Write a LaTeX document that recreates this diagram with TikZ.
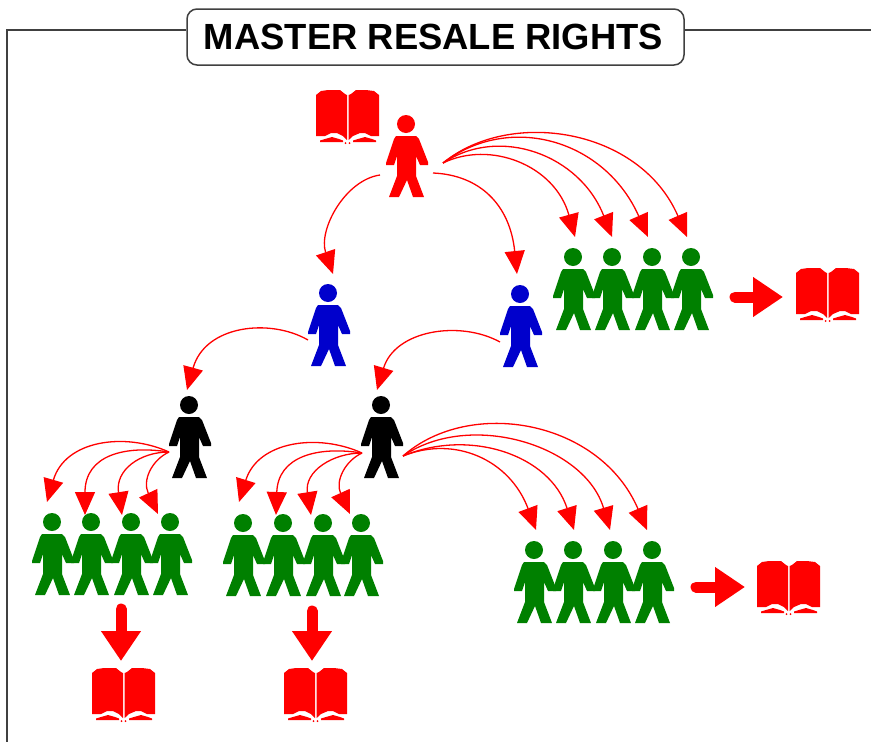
\documentclass[tikz,border=0pt]{standalone}
\usepackage{fontspec}
\setmainfont{Liberation Sans}
\usetikzlibrary{arrows.meta}
\definecolor{mygreen}{RGB}{0,128,0}
\definecolor{myblue}{RGB}{0,0,204}
\definecolor{myred}{RGB}{255,0,0}
\tikzset{
  x=1pt,y=-1pt,
  anchorbox/.style={inner sep=0pt,minimum width=40pt,minimum height=75pt},
  bookbox/.style={inner sep=0pt,minimum width=63pt,minimum height=54pt},
  curvearrow/.style={draw=myred,line width=1.3pt,-{Triangle[length=23pt,width=20pt]}},
  fatarrow/.style={draw=myred,line width=11pt,line cap=round,-{Triangle[length=30pt,width=38pt]}},
  titlebox/.style={draw=black!75,line width=1.5pt,fill=white,rounded corners=10pt,minimum width=497pt,minimum height=56pt,inner sep=0pt},
  titletext/.style={inner sep=0pt,font=\bfseries\fontsize{36.4}{36.4}\selectfont},
  frameline/.style={draw=black!75,line width=1.5pt}
}
\newcommand\personfig[4]{%
  \node[anchorbox] (#1) at (#3,#4+36) {};
  \fill[#2] (#3,#4) circle[radius=9pt];
  \fill[#2,shift={(#3,#4)}] (-10,12) -- (10,12) -- (13,15) -- (22,38) -- (22,41) -- (14,41) -- (10,32) -- (10,52) -- (18,73) -- (7,73) -- (1,56) -- (-7,73) -- (-17,73) -- (-9,52) -- (-9,32) -- (-12,41) -- (-20,41) -- (-20,39) -- (-12,15) -- cycle;
}
\newcommand\bookfig[4][myred]{%
  \node[bookbox] (#2) at (#3+31.5,#4+27) {};
  \begin{scope}[shift={(#3,#4)}]
  \fill[#1] (0,5) -- (5,1) -- (12,0) -- (24,0) -- (29,4) -- (31,5) -- (31,50) -- (27,46) -- (21,43) -- (15,43) -- (9,46) -- (0,46) -- cycle;
  \fill[#1] (32.7,50) -- (37,46) -- (44,43) -- (49,43) -- (55,46) -- (63,46) -- (63,5) -- (58,1) -- (50,0) -- (40,0) -- (35,4) -- (32.7,5) -- cycle;
  \fill[#1] (4,50.5) -- (9,49) -- (16,47) -- (23,49) -- (27,50.5) -- (27,52) -- (4,52) -- cycle;
  \fill[#1] (37,50.5) -- (42,49) -- (49,47) -- (56,49) -- (60,50.5) -- (60,52) -- (37,52) -- cycle;
  \fill[#1] (29.5,53) circle[radius=1pt] (33.5,53) circle[radius=1pt];
  \end{scope}
}
\newcommand\conn[4]{\draw[curvearrow] (#1) .. controls (#2) and (#3) .. (#4);}
\begin{document}
\begin{tikzpicture}
\useasboundingbox (0,0) rectangle (871,742);
\fill[white] (0,0) rectangle (871,742);
% frame and title
\coordinate (fb) at (7,742);
\coordinate (fc) at (7,30);
\coordinate (fe) at (871,30);
\node[titlebox] (title) at (435.5,37) {};
\node[titletext] (titlelabel) at (433.5,37) {MASTER RESALE RIGHTS};
\draw[frameline] (fb) -- (fc) -- (fc -| title.west);
\draw[frameline] (fc -| title.east) -- (fe);
% people
\personfig{red}{myred}{406}{124}
\personfig{blueL}{myblue}{328}{293}
\personfig{blueR}{myblue}{520}{294}
\personfig{blackL}{black}{189}{405}
\personfig{blackR}{black}{381}{405}
\personfig{ga1}{mygreen}{573}{257}
\personfig{ga2}{mygreen}{612}{257}
\personfig{ga3}{mygreen}{652}{257}
\personfig{ga4}{mygreen}{691}{257}
\personfig{gb1}{mygreen}{52}{522}
\personfig{gb2}{mygreen}{91}{522}
\personfig{gb3}{mygreen}{131}{522}
\personfig{gb4}{mygreen}{170}{522}
\personfig{gc1}{mygreen}{243}{523}
\personfig{gc2}{mygreen}{283}{523}
\personfig{gc3}{mygreen}{323}{523}
\personfig{gc4}{mygreen}{361}{523}
\personfig{gd1}{mygreen}{534}{550}
\personfig{gd2}{mygreen}{573}{550}
\personfig{gd3}{mygreen}{613}{550}
\personfig{gd4}{mygreen}{652}{550}
% books
\bookfig{bookTop}{316}{90}
\bookfig{bookA}{796}{268}
\bookfig{bookD}{757}{561}
\bookfig{bookB}{92}{668}
\bookfig{bookC}{284}{668}
% connector ends
\coordinate (sr) at (443,163);
\coordinate (sl) at (380,175);
\coordinate (sm) at (433,173);
\coordinate (sbl) at (308,340);
\coordinate (sbr) at (500,342);
\coordinate (skl) at (169,452);
\coordinate (skr) at (362,453);
\coordinate (skq) at (403,456);
\coordinate (tbl) at (333,274);
\coordinate (tbr) at (517,274);
\coordinate (tkl) at (187,390);
\coordinate (tkr) at (377,390);
\coordinate (ta1) at (575,237);
\coordinate (ta2) at (612,237);
\coordinate (ta3) at (648,237);
\coordinate (ta4) at (687,237);
\coordinate (tb1) at (47,502);
\coordinate (tb2) at (85,515);
\coordinate (tb3) at (122,515);
\coordinate (tb4) at (158,514);
\coordinate (tc1) at (239,502);
\coordinate (tc2) at (276,515);
\coordinate (tc3) at (311,515);
\coordinate (tc4) at (350,514);
\coordinate (td1) at (536,530);
\coordinate (td2) at (574,530);
\coordinate (td3) at (610,530);
\coordinate (td4) at (647,530);
% curved connectors
\conn{sl}{345,180}{318,230}{tbl}
\conn{sm}{480,175}{510,205}{tbr}
\conn{sr}{490,140}{555,165}{ta1}
\conn{sr}{500,125}{580,155}{ta2}
\conn{sr}{510,112}{605,140}{ta3}
\conn{sr}{510,108}{640,128}{ta4}
\conn{sbl}{270,318}{205,325}{tkl}
\conn{sbr}{460,320}{395,330}{tkr}
\conn{skl}{125,432}{65,440}{tb1}
\conn{skl}{125,445}{85,455}{tb2}
\conn{skl}{140,452}{115,470}{tb3}
\conn{skl}{152,460}{142,480}{tb4}
\conn{skr}{318,433}{258,441}{tc1}
\conn{skr}{318,446}{278,456}{tc2}
\conn{skr}{333,453}{304,471}{tc3}
\conn{skr}{345,461}{335,481}{tc4}
\conn{skq}{455,435}{510,460}{td1}
\conn{skq}{470,428}{550,455}{td2}
\conn{skq}{470,410}{585,445}{td3}
\conn{skq}{470,397}{600,420}{td4}
% thick arrows
\coordinate (fa) at (735,297);
\coordinate (fat) at (783,297);
\coordinate (fd) at (696,587);
\coordinate (fdt) at (745,587);
\coordinate (fb1) at (121,609);
\coordinate (fb1t) at (121,661);
\coordinate (fc1) at (312,611);
\coordinate (fc1t) at (312,661);
\draw[fatarrow] (fa) -- (fat);
\draw[fatarrow] (fd) -- (fdt);
\draw[fatarrow] (fb1) -- (fb1t);
\draw[fatarrow] (fc1) -- (fc1t);
\end{tikzpicture}
\end{document}
